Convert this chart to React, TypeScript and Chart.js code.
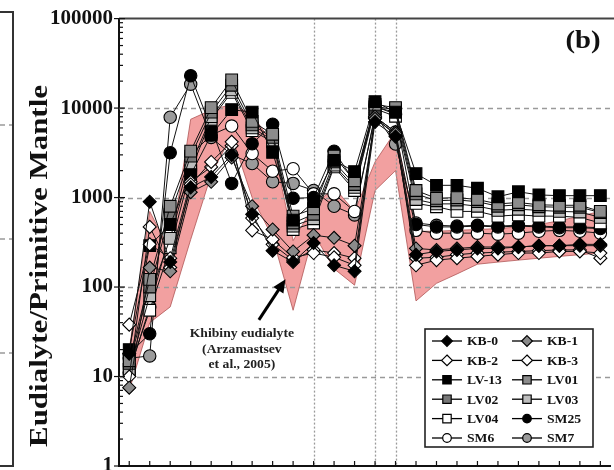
import React, { useEffect, useRef } from 'react';
import { Chart, registerables } from 'chart.js';

Chart.register(...registerables);

// Trace elements along the x axis (primitive-mantle normalised spider diagram)
const elements = ['Cs', 'Rb', 'Ba', 'Th', 'U', 'Nb', 'Ta', 'La', 'Ce', 'Pr', 'Sr', 'Nd',
  'Zr', 'Hf', 'Sm', 'Eu', 'Gd', 'Tb', 'Dy', 'Ho', 'Er', 'Tm', 'Yb', 'Lu'];

// Khibiny eudialyte field (Arzamastsev et al., 2005): upper and lower envelope
const khibinyUpper = [20, 700, 250, 7500, 9500, 11000, 8500, 4000, 330, 800, 1300, 700, 2500, 5500, 420, 420, 430, 440, 450, 470, 500, 550, 620, 700];
const khibinyLower = [7, 40, 60, 340, 1800, 5000, 1000, 360, 55, 400, 160, 105, 1200, 2000, 70, 110, 140, 180, 190, 200, 210, 220, 230, 240];

// Sample series
const kb0 = [18, 900, 190, 1300, 1700, 3000, 650, 255, 190, 310, 175, 150, 7000, 4800, 230, 250, 260, 270, 270, 280, 290, 290, 300, 300];
const kb1 = [7.5, 165, 150, 1150, 1500, 2800, 800, 440, 250, 380, 355, 290, 7600, 5200, 270, 260, 270, 280, 280, 280, 290, 290, 290, 290];
const kb2 = [10, 470, 165, 1400, 2500, 4200, 430, 340, 213, 240, 215, 175, 8000, 5400, 175, 200, 210, 220, 230, 240, 240, 250, 250, 240];
const kb3 = [38, 300, 210, 1500, 2200, 3800, 590, 300, 200, 260, 240, 210, 7800, 5000, 210, 215, 230, 240, 245, 250, 255, 260, 260, 210];
const lv13 = [20, 290, 500, 1800, 5000, 9600, 9000, 3200, 560, 900, 2600, 1950, 11800, 9000, 1850, 1370, 1370, 1270, 1020, 1160, 1070, 1050, 1050, 1050];
const lv01 = [15, 122, 800, 3300, 10100, 20700, 7100, 5100, 620, 750, 2900, 1540, 11000, 10100, 1200, 980, 1000, 950, 850, 880, 830, 820, 820, 700];
const lv02 = [14, 100, 650, 2900, 9000, 18000, 6500, 4700, 520, 650, 2500, 1400, 10500, 9500, 1100, 920, 940, 900, 800, 830, 790, 780, 780, 680];
const lv03 = [12, 80, 350, 2300, 8000, 16000, 6000, 4400, 480, 580, 2300, 1300, 10200, 9000, 950, 850, 850, 800, 720, 740, 720, 700, 690, 600];
const lv04 = [12, 55, 275, 2000, 7500, 15000, 5600, 4200, 440, 520, 2200, 1200, 9800, 8100, 860, 790, 700, 700, 620, 640, 620, 620, 600, 520];
const sm25 = [18, 30, 3160, 23000, 6000, 1440, 4000, 6600, 980, 1000, 3300, 1500, 10500, 8500, 500, 470, 470, 480, 470, 480, 470, 460, 460, 450];
const sm6 = [11, 60, 400, 3000, 5000, 6300, 3100, 1970, 2100, 1100, 1100, 700, 8000, 5400, 430, 400, 400, 400, 390, 400, 420, 430, 420, 400];
const sm7 = [16, 17, 7900, 18500, 4700, 3000, 2400, 1500, 1440, 1200, 800, 640, 8500, 3960, 520, 490, 480, 490, 480, 490, 480, 470, 470, 460];

const yTickValues = [1, 10, 100, 1000, 10000, 100000];
const dashedLevels = [10, 100, 1000, 10000];
const guideElements = ['Pr', 'Zr', 'Hf'];

const annotationLines = ['Khibiny eudialyte', '(Arzamastsev', 'et al., 2005)'];

const SERIF = '"Liberation Serif", "Times New Roman", serif';
const LINE = '#111111';

type Shape = 'diamond' | 'square' | 'circle';
interface Sample { label: string; data: number[]; shape: Shape; fill: string; }

const samples: Sample[] = [
  { label: 'KB-0', data: kb0, shape: 'diamond', fill: '#000000' },
  { label: 'KB-1', data: kb1, shape: 'diamond', fill: '#8a8a8a' },
  { label: 'KB-2', data: kb2, shape: 'diamond', fill: '#ffffff' },
  { label: 'KB-3', data: kb3, shape: 'diamond', fill: '#ffffff' },
  { label: 'LV-13', data: lv13, shape: 'square', fill: '#000000' },
  { label: 'LV01', data: lv01, shape: 'square', fill: '#8c8c8c' },
  { label: 'LV02', data: lv02, shape: 'square', fill: '#777777' },
  { label: 'LV03', data: lv03, shape: 'square', fill: '#bdbdbd' },
  { label: 'LV04', data: lv04, shape: 'square', fill: '#ffffff' },
  { label: 'SM25', data: sm25, shape: 'circle', fill: '#000000' },
  { label: 'SM6', data: sm6, shape: 'circle', fill: '#ffffff' },
  { label: 'SM7', data: sm7, shape: 'circle', fill: '#9b9b9b' },
];

const pointStyleOf: Record<Shape, string> = { diamond: 'rectRot', square: 'rect', circle: 'circle' };
const radiusOf: Record<Shape, number> = { diamond: 6.5, square: 8.3, circle: 6.2 };

function drawMarker(ctx: CanvasRenderingContext2D, shape: Shape, x: number, y: number, r: number, fill: string) {
  ctx.beginPath();
  if (shape === 'circle') {
    ctx.arc(x, y, r, 0, Math.PI * 2);
  } else if (shape === 'square') {
    ctx.rect(x - r, y - r, 2 * r, 2 * r);
  } else {
    const d = r * 1.25;
    ctx.moveTo(x, y - d);
    ctx.lineTo(x + d, y);
    ctx.lineTo(x, y + d);
    ctx.lineTo(x - d, y);
    ctx.closePath();
  }
  ctx.fillStyle = fill;
  ctx.fill();
  ctx.lineWidth = 1.2;
  ctx.strokeStyle = '#000';
  ctx.stroke();
}

function stretchedText(ctx: CanvasRenderingContext2D, text: string, x: number, y: number, sx: number) {
  ctx.save();
  ctx.translate(x, y);
  ctx.scale(sx, 1);
  ctx.fillText(text, 0, 0);
  ctx.restore();
}

const decorPlugin = {
  id: 'decor',
  afterDatasetDraw(chart: any, args: any) {
    // guides go above the Khibiny field but below the sample lines
    if (args.index !== 0) return;
    const { ctx, chartArea: a, scales } = chart;
    ctx.save();
    ctx.strokeStyle = '#9a9a9a';
    ctx.lineWidth = 1.6;
    ctx.setLineDash([5, 4]);
    dashedLevels.forEach((v) => {
      const y = Math.round(scales.y.getPixelForValue(v)) + 0.5;
      ctx.beginPath();
      ctx.moveTo(a.left, y);
      ctx.lineTo(a.right, y);
      ctx.stroke();
    });
    ctx.lineWidth = 1.3;
    ctx.setLineDash([2, 2]);
    guideElements.forEach((el) => {
      const x = Math.round(scales.x.getPixelForValue(elements.indexOf(el))) + 0.5;
      ctx.beginPath();
      ctx.moveTo(x, a.top);
      ctx.lineTo(x, a.bottom);
      ctx.stroke();
    });
    ctx.restore();
  },
  afterDraw(chart: any) {
    const { ctx, chartArea: a, scales } = chart;
    ctx.save();

    // frame top
    ctx.strokeStyle = '#444';
    ctx.lineWidth = 2;
    ctx.beginPath();
    ctx.moveTo(a.left, a.top);
    ctx.lineTo(a.right + 10, a.top);
    ctx.stroke();

    // y ticks (major + log minor), drawn inward
    ctx.strokeStyle = '#111';
    ctx.lineWidth = 1.2;
    for (let d = 1; d < 100000; d *= 10) {
      for (let m = 2; m <= 9; m++) {
        const y = scales.y.getPixelForValue(d * m);
        ctx.beginPath();
        ctx.moveTo(a.left, y);
        ctx.lineTo(a.left + 4, y);
        ctx.stroke();
      }
    }
    yTickValues.forEach((v) => {
      const y = scales.y.getPixelForValue(v);
      ctx.beginPath();
      ctx.moveTo(a.left - 5, y);
      ctx.lineTo(a.left + 6, y);
      ctx.stroke();
    });
    // x ticks
    elements.forEach((_, i) => {
      const x = scales.x.getPixelForValue(i);
      ctx.beginPath();
      ctx.moveTo(x, a.bottom);
      ctx.lineTo(x, a.bottom - 5);
      ctx.stroke();
    });

    // y axis title
    ctx.fillStyle = '#111';
    ctx.font = `bold 26px ${SERIF}`;
    ctx.textAlign = 'center';
    ctx.textBaseline = 'middle';
    const title = 'Eudialyte/Primitive Mantle';
    const tw = ctx.measureText(title).width;
    ctx.save();
    ctx.translate(40, 266);
    ctx.rotate(-Math.PI / 2);
    ctx.scale(362 / tw, 1);
    ctx.fillText(title, 0, 0);
    ctx.restore();

    // panel letter
    ctx.font = `bold 25px ${SERIF}`;
    stretchedText(ctx, '(b)', 583, 42, 1.15);

    // annotation for the Khibiny field
    ctx.font = `bold 13px ${SERIF}`;
    ctx.fillStyle = '#222';
    const ax = scales.x.getPixelForValue(5.5);
    [30, 20, 13.7].forEach((v, i) => {
      stretchedText(ctx, annotationLines[i], ax, scales.y.getPixelForValue(v), 1.05);
    });
    // arrow
    const tx = scales.x.getPixelForValue(6.33), ty = scales.y.getPixelForValue(43);
    const hx = scales.x.getPixelForValue(7.63), hy = scales.y.getPixelForValue(122);
    const ang = Math.atan2(hy - ty, hx - tx);
    ctx.strokeStyle = '#000';
    ctx.fillStyle = '#000';
    ctx.lineWidth = 3;
    ctx.beginPath();
    ctx.moveTo(tx, ty);
    ctx.lineTo(hx - Math.cos(ang) * 9, hy - Math.sin(ang) * 9);
    ctx.stroke();
    ctx.beginPath();
    ctx.moveTo(hx, hy);
    ctx.lineTo(hx - Math.cos(ang) * 13 + Math.sin(ang) * 6, hy - Math.sin(ang) * 13 - Math.cos(ang) * 6);
    ctx.lineTo(hx - Math.cos(ang) * 13 - Math.sin(ang) * 6, hy - Math.sin(ang) * 13 + Math.cos(ang) * 6);
    ctx.closePath();
    ctx.fill();

    // legend
    const lx = 425, ly = 329, lw = 168, lh = 118;
    ctx.fillStyle = '#fff';
    ctx.fillRect(lx, ly, lw, lh);
    ctx.strokeStyle = '#222';
    ctx.lineWidth = 1.6;
    ctx.strokeRect(lx, ly, lw, lh);
    ctx.font = `bold 13px ${SERIF}`;
    ctx.textAlign = 'left';
    ctx.textBaseline = 'middle';
    samples.forEach((s, i) => {
      const col = i % 2, row = Math.floor(i / 2);
      const x0 = col === 0 ? 432 : 512;
      const y = 341 + row * 19.4;
      ctx.strokeStyle = '#000';
      ctx.lineWidth = 1.3;
      ctx.beginPath();
      ctx.moveTo(x0, y);
      ctx.lineTo(x0 + 30, y);
      ctx.stroke();
      drawMarker(ctx, s.shape, x0 + 15, y, s.shape === 'square' ? 4.2 : 4.3, s.fill);
      ctx.fillStyle = '#111';
      stretchedText(ctx, s.label, x0 + 35, y + 1, 1.05);
    });

    ctx.restore();
  },
};

// edge of the neighbouring panel (a)
const neighbourPlugin = {
  id: 'neighbour',
  afterDraw(chart: any) {
    const { ctx } = chart;
    ctx.save();
    ctx.strokeStyle = '#9a9a9a';
    ctx.lineWidth = 1.5;
    ctx.setLineDash([5, 4]);
    [125, 239, 353].forEach((y) => {
      ctx.beginPath();
      ctx.moveTo(0, y);
      ctx.lineTo(12, y);
      ctx.stroke();
    });
    ctx.setLineDash([]);
    ctx.strokeStyle = '#333';
    ctx.lineWidth = 2;
    ctx.beginPath();
    ctx.moveTo(0, 12);
    ctx.lineTo(13, 12);
    ctx.lineTo(13, 466);
    ctx.lineTo(0, 466);
    ctx.stroke();
    ctx.restore();
  },
};

export default function App() {
  const canvasRef = useRef<HTMLCanvasElement | null>(null);

  useEffect(() => {
    if (!canvasRef.current) return;
    const bandStyle = {
      borderColor: '#b05555',
      borderWidth: 0.8,
      pointRadius: 0,
      tension: 0,
    };
    const chart = new Chart(canvasRef.current, {
      type: 'line',
      data: {
        labels: elements,
        datasets: [
          { label: 'Khibiny lower', data: khibinyLower, fill: false, order: 100, ...bandStyle },
          { label: 'Khibiny upper', data: khibinyUpper, fill: '-1', backgroundColor: 'rgb(242,160,160)', order: 100, ...bandStyle },
          ...samples.map((s, i) => ({
            label: s.label,
            data: s.data,
            order: i,
            borderColor: LINE,
            borderWidth: 1,
            fill: false,
            tension: 0,
            pointStyle: pointStyleOf[s.shape],
            pointRadius: radiusOf[s.shape],
            pointBackgroundColor: s.fill,
            pointBorderColor: '#000',
            pointBorderWidth: 1.1,
          })),
        ],
      } as any,
      options: {
        animation: false,
        responsive: true,
        maintainAspectRatio: false,
        events: [],
        layout: { padding: { top: 13, right: 4, left: 0, bottom: 0 } },
        plugins: { legend: { display: false }, tooltip: { enabled: false } },
        scales: {
          x: {
            type: 'category',
            offset: true,
            grid: { display: false, drawTicks: false },
            border: { display: true, color: '#111', width: 2 },
            ticks: { display: false },
            afterFit: (scale: any) => { scale.height = 34; },
          },
          y: {
            type: 'logarithmic',
            min: 1,
            max: 100000,
            grid: { display: false, drawTicks: false },
            border: { display: true, color: '#111', width: 2 },
            afterBuildTicks: (scale: any) => { scale.ticks = yTickValues.map((v) => ({ value: v })); },
            ticks: {
              padding: 6,
              color: '#111',
              font: { family: SERIF, size: 21, weight: 'bold' },
              callback: (v: any) => String(v),
            },
            afterFit: (scale: any) => { scale.width = 119; },
          },
        },
      } as any,
      plugins: [decorPlugin, neighbourPlugin],
    });
    return () => chart.destroy();
  }, []);

  return (
    <div style={{ position: 'fixed', left: 0, top: 0, width: 614, height: 470, overflow: 'hidden', background: '#fff' }}>
      <div style={{ position: 'relative', width: 620, height: 500 }}>
        <canvas ref={canvasRef} />
      </div>
    </div>
  );
}
